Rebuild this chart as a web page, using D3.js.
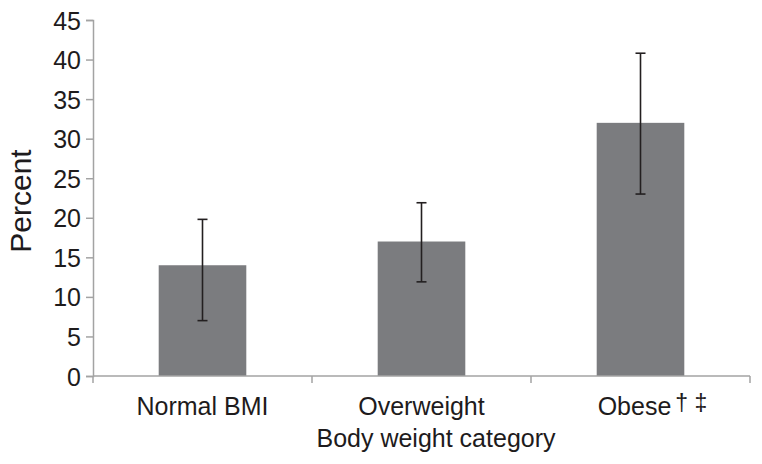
<!DOCTYPE html>
<html><head><meta charset="utf-8">
<script src="https://cdn.jsdelivr.net/npm/d3@7"></script>
<style>
html,body{margin:0;padding:0;background:#fff;}
text{font-family:"Liberation Sans",Arial,Helvetica,sans-serif;fill:#1e1b1c;}
</style></head>
<body><svg id="c" width="762" height="464"></svg>
<script>
const categories = ["Normal BMI", "Overweight", "Obese"];
const values = [14.0, 17.0, 32.0];
const errLow = [7.0, 11.9, 23.0];
const errHigh = [19.8, 21.9, 40.8];
const yTicks = [0, 5, 10, 15, 20, 25, 30, 35, 40, 45];
const superscripts = ["", "", "\u2020 \u2021"];

(function(){
const svg = d3.select("#c");
const mLeft = 93, mRight = 750, mTop = 20, mBottom = 376;

const x = d3.scaleBand().domain(categories).range([mLeft, mRight]).paddingInner(0.6).paddingOuter(0.3);
const xb = d3.scaleBand().domain(categories).range([mLeft, mRight]);
const y = d3.scaleLinear().domain([0, 45]).range([mBottom, mTop]);

const axisColor = "#a3a3a3";

// bars
svg.selectAll("rect.bar").data(categories).enter().append("rect")
  .attr("class","bar")
  .attr("x", d => x(d)).attr("width", x.bandwidth())
  .attr("y", (d,i) => y(values[i])).attr("height", (d,i) => y(0) - y(values[i]))
  .attr("fill", "#7b7c7f");

// error bars
const eb = svg.append("g").attr("stroke", "#231f20").attr("stroke-width", 1.6);
categories.forEach((c,i) => {
  const cx = x(c) + x.bandwidth()/2;
  eb.append("line").attr("x1",cx).attr("x2",cx).attr("y1",y(errLow[i])).attr("y2",y(errHigh[i]));
  eb.append("line").attr("x1",cx-5).attr("x2",cx+5).attr("y1",y(errLow[i])).attr("y2",y(errLow[i]));
  eb.append("line").attr("x1",cx-5).attr("x2",cx+5).attr("y1",y(errHigh[i])).attr("y2",y(errHigh[i]));
});

// y axis
const ya = svg.append("g").attr("transform", `translate(${mLeft},0)`)
  .call(d3.axisLeft(y).tickValues(yTicks).tickSize(7).tickPadding(5));
ya.select(".domain").attr("stroke", axisColor).attr("stroke-width", 1.5);
ya.selectAll(".tick line").attr("stroke", axisColor).attr("stroke-width", 1.5);
ya.selectAll(".tick text").attr("font-size", 25).attr("fill", "#1e1b1c")
  .attr("font-family", '"Liberation Sans",Arial,sans-serif').attr("dy","0.36em");

// x axis line with boundary ticks
const xa = svg.append("g").attr("stroke", axisColor).attr("stroke-width", 1.5);
xa.append("line").attr("x1", mLeft).attr("x2", mRight).attr("y1", mBottom).attr("y2", mBottom);
const bounds = categories.map(c => xb(c)).concat([mRight]);
bounds.forEach(bx => xa.append("line").attr("x1", bx).attr("x2", bx).attr("y1", mBottom).attr("y2", mBottom+7));

// x tick labels
categories.forEach((c,i) => {
  const cx = x(c) + x.bandwidth()/2;
  const t = svg.append("text").attr("x", cx + (superscripts[i] ? 12 : 0)).attr("y", 415)
    .attr("text-anchor","middle").attr("font-size", 25);
  t.append("tspan").text(c);
  if (superscripts[i]) {
    t.append("tspan").attr("dx", 4).attr("dy", -4).attr("font-size", 23).text(superscripts[i]);
  }
});

// axis titles
svg.append("text").attr("x", (mLeft+mRight)/2 + 14.5).attr("y", 447).attr("text-anchor","middle")
  .attr("font-size", 25).text("Body weight category");
svg.append("text").attr("transform", "translate(31,201) rotate(-90)").attr("text-anchor","middle")
  .attr("font-size", 30).text("Percent");
})();
</script>
</body></html>
